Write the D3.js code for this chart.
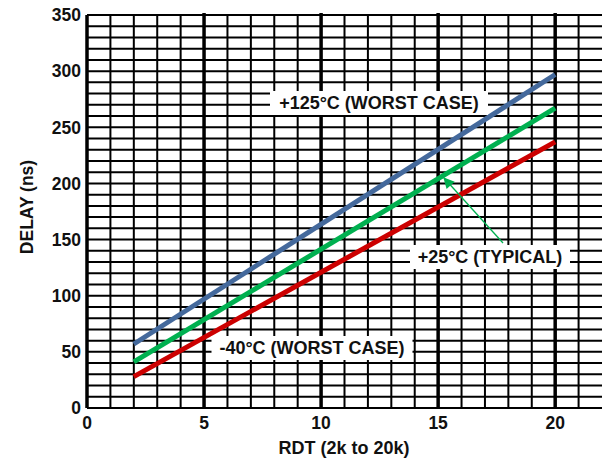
<!DOCTYPE html>
<html>
<head>
<meta charset="utf-8">
<script src="https://cdn.jsdelivr.net/npm/d3@7"></script>
<style>
  body { margin: 0; background: #fff; }
  text { font-family: "Liberation Sans", Arial, sans-serif; font-weight: bold; fill: #111; }
</style>
</head>
<body>
<svg id="chart"></svg>
<script>
// RDT values (k) and delay readings (ns) for each temperature
var rdt = [2, 20];
var hotDelay = [57, 297];    // +125C worst case
var typDelay = [41, 267];    // +25C typical
var coldDelay = [28, 237];   // -40C worst case

var xTicks = [0, 5, 10, 15, 20];
var yTicks = [0, 50, 100, 150, 200, 250, 300, 350];

var svgWidth = 605, svgHeight = 461;
var margin = { top: 15, right: 3, bottom: 53, left: 87 };
var width = svgWidth - margin.left - margin.right;
var height = svgHeight - margin.top - margin.bottom;

var svg = d3.select("#chart")
    .attr("width", svgWidth)
    .attr("height", svgHeight);

var g = svg.append("g")
    .attr("transform", "translate(" + margin.left + "," + margin.top + ")");

var x = d3.scaleLinear().domain([0, 22]).range([0, width]);
var y = d3.scaleLinear().domain([0, 350]).range([height, 0]);

// grid: minor every 1k / 10ns, heavy verticals every 5k
g.append("g")
    .selectAll("line")
    .data(d3.range(0, 360, 10))
    .enter().append("line")
    .attr("x1", 0).attr("x2", width)
    .attr("y1", function(d) { return y(d); })
    .attr("y2", function(d) { return y(d); })
    .attr("stroke", "#000")
    .attr("stroke-width", 2);

g.append("g")
    .selectAll("line")
    .data(d3.range(0, 22, 1))
    .enter().append("line")
    .attr("x1", function(d) { return x(d); })
    .attr("x2", function(d) { return x(d); })
    .attr("y1", function(d) { return d % 5 == 0 && d > 0 ? -2 : 0; })
    .attr("y2", height)
    .attr("stroke", "#000")
    .attr("stroke-width", function(d) { return d % 5 == 0 ? 3.5 : 2; });

// tick labels
g.append("g")
    .selectAll("text")
    .data(yTicks)
    .enter().append("text")
    .attr("x", -6)
    .attr("y", function(d) { return y(d); })
    .attr("dy", "0.36em")
    .attr("text-anchor", "end")
    .style("font-size", "17.5px")
    .text(function(d) { return d; });

g.append("g")
    .selectAll("text")
    .data(xTicks)
    .enter().append("text")
    .attr("x", function(d) { return x(d); })
    .attr("y", height + 21)
    .attr("text-anchor", "middle")
    .style("font-size", "17.5px")
    .text(function(d) { return d; });

// axis titles
svg.append("text")
    .attr("x", 344)
    .attr("y", 454)
    .attr("text-anchor", "middle")
    .style("font-size", "18px")
    .text("RDT (2k to 20k)");

svg.append("text")
    .attr("transform", "translate(33,207) rotate(-90)")
    .attr("text-anchor", "middle")
    .style("font-size", "17.5px")
    .text("DELAY (ns)");

// delay lines
var series = [
    { values: coldDelay, color: "#cc0000" },
    { values: typDelay, color: "#00b050" },
    { values: hotDelay, color: "#44699c" }
];

var line = d3.line()
    .x(function(d, i) { return x(rdt[i]); })
    .y(function(d) { return y(d); });

series.forEach(function(s) {
    g.append("path")
        .datum(s.values)
        .attr("fill", "none")
        .attr("stroke", s.color)
        .attr("stroke-width", 5)
        .attr("d", line);
});

// labels with white boxes
function label(cx, cy, w, txt) {
    svg.append("rect")
        .attr("x", cx - w / 2).attr("y", cy - 12)
        .attr("width", w).attr("height", 24)
        .attr("fill", "#fff");
    svg.append("text")
        .attr("x", cx).attr("y", cy)
        .attr("dy", "0.36em")
        .attr("text-anchor", "middle")
        .style("font-size", "18px")
        .text(txt);
}

label(379, 103, 218, "+125°C (WORST CASE)");
label(312, 348, 201, "-40°C (WORST CASE)");
label(490, 257, 160, "+25°C (TYPICAL)");

// arrow from the typical label to the green line
var defs = svg.append("defs");
defs.append("marker")
    .attr("id", "head")
    .attr("viewBox", "0 0 10 10")
    .attr("refX", 9).attr("refY", 5)
    .attr("markerWidth", 14).attr("markerHeight", 11)
    .attr("markerUnits", "userSpaceOnUse")
    .attr("orient", "auto")
    .append("path")
    .attr("d", "M0,0 L10,5 L0,10 z")
    .attr("fill", "#00b050");

svg.append("line")
    .attr("x1", 503).attr("y1", 243)
    .attr("x2", 444).attr("y2", 178)
    .attr("stroke", "#00b050")
    .attr("stroke-width", 1.3)
    .attr("marker-end", "url(#head)");
</script>
</body>
</html>
